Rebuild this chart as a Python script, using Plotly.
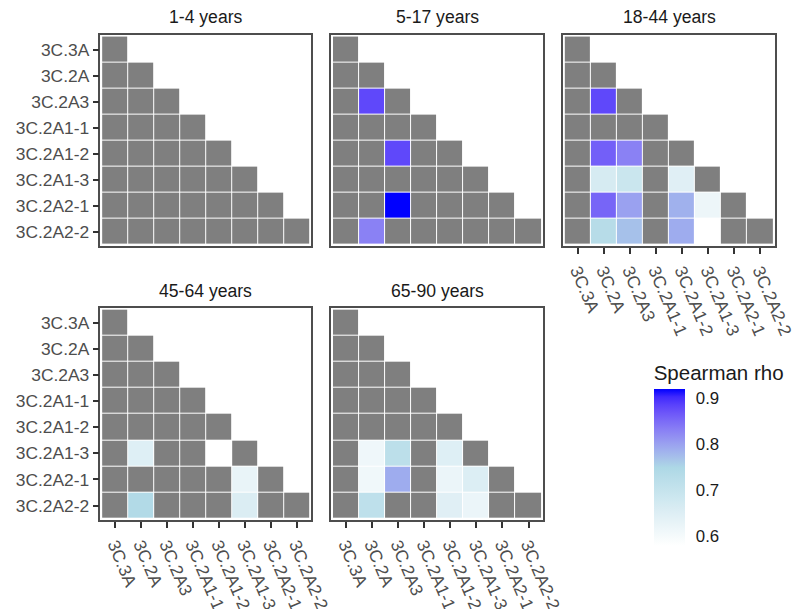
import plotly.graph_objects as go

# ---------------------------
# 1. DATOS
# ---------------------------
LABELS = ["3C.3A", "3C.2A", "3C.2A3", "3C.2A1-1", "3C.2A1-2",
          "3C.2A1-3", "3C.2A2-1", "3C.2A2-2"]

PANELS = ["1-4 years", "5-17 years", "18-44 years", "45-64 years", "65-90 years"]

N = None  # no significativo (gris)

# triangulo inferior, fila por fila (Spearman rho)
RHO_1_4 = [
    [N],
    [N, N],
    [N, N, N],
    [N, N, N, N],
    [N, N, N, N, N],
    [N, N, N, N, N, N],
    [N, N, N, N, N, N, N],
    [N, N, N, N, N, N, N, N],
]

RHO_5_17 = [
    [N],
    [N, N],
    [N, 0.88, N],
    [N, N, N, N],
    [N, N, 0.88, N, N],
    [N, N, N, N, N, N],
    [N, N, 0.92, N, N, N, N],
    [N, 0.83, N, N, N, N, N, N],
]

RHO_18_44 = [
    [N],
    [N, N],
    [N, 0.88, N],
    [N, N, N, N],
    [N, 0.86, 0.83, N, N],
    [N, 0.665, 0.69, N, 0.645, N],
    [N, 0.855, 0.80, N, 0.785, 0.617, N],
    [N, 0.73, 0.77, N, 0.79, 0.578, N, N],
]

RHO_45_64 = [
    [N],
    [N, N],
    [N, N, N],
    [N, N, N, N],
    [N, N, N, N, N],
    [N, 0.648, N, N, N, N],
    [N, N, N, N, N, 0.625, N],
    [N, 0.74, N, N, N, 0.655, N, N],
]

RHO_65_90 = [
    [N],
    [N, N],
    [N, N, N],
    [N, N, N, N],
    [N, N, N, N, N],
    [N, 0.613, 0.72, N, 0.648, N],
    [N, 0.61, 0.79, N, 0.62, 0.652, N],
    [N, 0.715, N, N, 0.645, 0.62, N, N],
]

# celdas que no aparecen (sin dato): (panel, fila, columna)
ABSENT = [("45-64 years", "3C.2A1-3", "3C.2A1-2")]

RHO = [RHO_1_4, RHO_5_17, RHO_18_44, RHO_45_64, RHO_65_90]

CBAR_TICKS = [0.6, 0.7, 0.8, 0.9]


# ---------------------------
# 2. ESCALA DE COLOR (interpolacion en Lab, como ggplot)
# ---------------------------
def hex_a_lab(h):
    rgb = [int(h[i:i + 2], 16) / 255 for i in (1, 3, 5)]
    lin = [c / 12.92 if c <= 0.04045 else ((c + 0.055) / 1.055) ** 2.4 for c in rgb]
    x = (0.4124 * lin[0] + 0.3576 * lin[1] + 0.1805 * lin[2]) / 0.95047
    y = 0.2126 * lin[0] + 0.7152 * lin[1] + 0.0722 * lin[2]
    z = (0.0193 * lin[0] + 0.1192 * lin[1] + 0.9505 * lin[2]) / 1.08883
    f = lambda t: t ** (1 / 3) if t > 0.008856 else 7.787 * t + 16 / 116
    fx, fy, fz = f(x), f(y), f(z)
    return 116 * fy - 16, 500 * (fx - fy), 200 * (fy - fz)


def lab_a_hex(L, a, b):
    fy = (L + 16) / 116
    fx = fy + a / 500
    fz = fy - b / 200
    g = lambda t: t ** 3 if t ** 3 > 0.008856 else (t - 16 / 116) / 7.787
    x, y, z = g(fx) * 0.95047, g(fy), g(fz) * 1.08883
    lin = [3.2406 * x - 1.5372 * y - 0.4986 * z,
           -0.9689 * x + 1.8758 * y + 0.0415 * z,
           0.0557 * x - 0.2040 * y + 1.0570 * z]
    out = []
    for c in lin:
        c = min(max(c, 0), 1)
        c = 12.92 * c if c <= 0.0031308 else 1.055 * c ** (1 / 2.4) - 0.055
        out.append(int(round(min(max(c, 0), 1) * 255)))
    return "#%02x%02x%02x" % tuple(out)


STOPS = ["#ffffff", "#add8e6", "#0000ff"]
colorscale = []
pasos = 20
for k in range(pasos + 1):
    t = k / pasos
    seg = 0 if t <= 0.5 else 1
    u = (t - 0.5 * seg) / 0.5
    a, b = hex_a_lab(STOPS[seg]), hex_a_lab(STOPS[seg + 1])
    colorscale.append([t, lab_a_hex(*[a[i] + (b[i] - a[i]) * u for i in range(3)])])

todos = [v for m in RHO for fila in m for v in fila if v is not None]
cmin, cmax = min(todos), max(todos)

# ---------------------------
# 3. FIGURA
# ---------------------------
# medidas tomadas sobre 792x609; la captura cubre ~808 de ancho y ~613 de alto
W, H = 792, 609
FW, FH = 808, 613
K = FW / W   # factor horizontal para tamaños en pixeles
KY = FH / H  # factor vertical
FONT = "Liberation Sans, Arial, sans-serif"

x_dom = [(101, 313), (333, 546), (566, 779)]
y_dom = [(35, 247), (309, 522)]
pos = [(0, 0), (0, 1), (0, 2), (1, 0), (1, 1)]
show_x = [False, False, True, True, True]
show_y = [True, False, False, True, False]

fig = go.Figure()
layout = {}
idx = list(range(len(LABELS)))

for p, nombre in enumerate(PANELS):
    fila_p, col_p = pos[p]
    z_col = [[None] * 8 for _ in range(8)]
    z_gris = [[None] * 8 for _ in range(8)]
    for i, fila in enumerate(RHO[p]):
        for j, v in enumerate(fila):
            if (nombre, LABELS[i], LABELS[j]) in ABSENT:
                continue
            if v is None:
                z_gris[i][j] = 1
            else:
                z_col[i][j] = v

    sfx = "" if p == 0 else str(p + 1)
    fig.add_trace(go.Heatmap(
        x=idx, y=idx, z=z_gris, xaxis="x" + sfx, yaxis="y" + sfx,
        colorscale=[[0, "#7f7f7f"], [1, "#7f7f7f"]], showscale=False,
        xgap=1, ygap=1, hoverinfo="skip"))
    fig.add_trace(go.Heatmap(
        x=idx, y=idx, z=z_col, xaxis="x" + sfx, yaxis="y" + sfx,
        coloraxis="coloraxis", xgap=1, ygap=1,
        customdata=[[LABELS[j] + " / " + LABELS[i] for j in idx] for i in idx],
        hovertemplate="%{customdata}<br>rho=%{z:.2f}<extra></extra>"))

    x0, x1 = x_dom[col_p]
    y0, y1 = y_dom[fila_p]
    eje = dict(showgrid=False, zeroline=False, showline=True, mirror=True,
               linecolor="#4d4d4d", linewidth=1.5, tickvals=idx, ticktext=LABELS,
               ticklen=6, tickwidth=2, tickcolor="#333333",
               tickfont=dict(family=FONT, size=17.4, color="#4d4d4d"))
    ax_x = dict(eje, domain=[x0 / W, x1 / W], range=[-0.565, 7.565],
                anchor="y" + sfx, tickangle=67)
    ax_y = dict(eje, domain=[1 - y1 / H, 1 - y0 / H], range=[7.565, -0.565],
                anchor="x" + sfx)
    if show_x[p]:
        ax_x["ticks"] = "outside"
    else:
        ax_x["showticklabels"] = False
        ax_x["ticks"] = ""
    if show_y[p]:
        ax_y["ticks"] = "outside"
    else:
        ax_y["showticklabels"] = False
        ax_y["ticks"] = ""
    layout["xaxis" + sfx] = ax_x
    layout["yaxis" + sfx] = ax_y

    fig.add_annotation(text=nombre, xref="paper", yref="paper",
                       x=(x0 + x1) / 2 / W, y=1 - (y0 - 17.5) / H,
                       xanchor="center", yanchor="middle", showarrow=False,
                       font=dict(family=FONT, size=17.6, color="#1a1a1a"))

fig.update_layout(**layout)
fig.update_layout(
    width=FW, height=FH,
    margin=dict(l=0, r=0, t=0, b=0),
    paper_bgcolor="white", plot_bgcolor="white",
    font=dict(family=FONT),
    coloraxis=dict(
        colorscale=colorscale, cmin=cmin, cmax=cmax,
        colorbar=dict(
            thickness=30 * K, thicknessmode="pixels",
            len=184 * KY, lenmode="pixels",
            x=657 / W, xanchor="left", xpad=0,
            y=1 - 548 / H, yanchor="bottom", ypad=0,
            outlinewidth=0, tickvals=CBAR_TICKS,
            ticks="outside", tickcolor="rgba(0,0,0,0)", ticklen=8,
            tickfont=dict(family=FONT, size=16.8, color="#1a1a1a"),
            title=dict(text="Spearman rho", side="top",
                       font=dict(family=FONT, size=20.5, color="#1a1a1a")),
        ),
    ),
)

# sin margen en el body: la figura empieza en la esquina
ajuste = """
document.body.style.margin = '0';
document.body.style.overflow = 'hidden';
"""

fig.write_html("out.html", config={"displayModeBar": False}, post_script=ajuste)
